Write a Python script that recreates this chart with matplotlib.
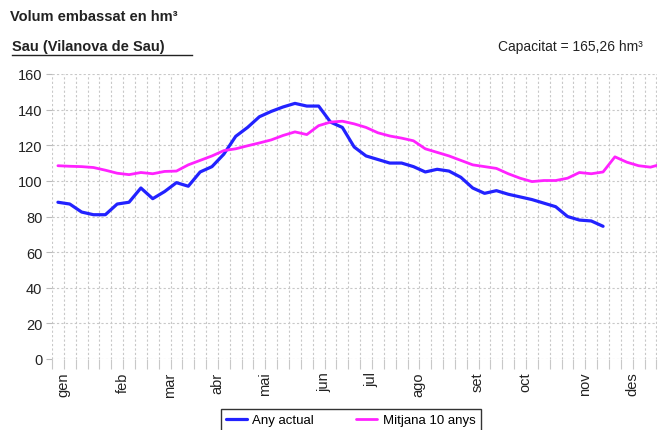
import numpy as np
import matplotlib
matplotlib.use('Agg')
import matplotlib.pyplot as plt

plt.rcParams['font.family'] = ['Liberation Sans', 'DejaVu Sans']

# weekly values (hm3)
any_actual = [88, 87, 82.5, 81, 81, 87, 88, 96, 90, 94, 99, 97, 105, 108, 115,
              125, 130, 136, 139, 141.5, 143.5, 142, 142, 133, 130, 119, 114, 112,
              110, 110, 108, 105, 106.5, 105.5, 102, 96, 93, 94.5, 92.5, 91, 89.5,
              87.5, 85.5, 80, 78, 77.5, 74.5]
mitjana_10 = [108.5, 108.2, 108, 107.5, 106, 104.3, 103.5, 104.7, 104, 105.3, 105.5,
              109, 111.5, 114, 117, 118, 119.7, 121.3, 123, 125.5, 127.5, 126, 131,
              133, 133.5, 132, 130, 127, 125.2, 124, 122.5, 118, 116, 114, 111.5, 109,
              108, 107, 104, 101.5, 99.6, 100.2, 100.2, 101.5, 104.7, 104, 105, 113.5,
              110.5, 108.5, 107.7, 109.5]
months = ['gen', 'feb', 'mar', 'abr', 'mai', 'jun', 'jul', 'ago', 'set', 'oct', 'nov', 'des']
month_week = [0, 5, 9, 13, 17, 22, 26, 30, 35, 39, 44, 48]

fig = plt.figure(figsize=(6.59, 4.31), dpi=100)
ax = fig.add_axes([52/659, 71/431, 605/659, 285/431])

ax.plot(np.arange(len(any_actual)), any_actual, color='#2222ff', lw=2.3,
        label='Any actual', solid_capstyle='round')
ax.plot(np.arange(len(mitjana_10)), mitjana_10, color='#ff22ff', lw=2.0,
        label='Mitjana 10 anys', solid_capstyle='round')

ax.set_xlim(-0.5, 50.55)
ax.set_ylim(0, 160)
ax.set_yticks(np.arange(0, 161, 20))
ax.set_xticks(np.arange(-0.5, 51, 1), minor=True)
ax.set_xticks(np.array(month_week) + 0.45)
ax.set_xticklabels(months, rotation=90, fontsize=10.5, color='#222222')
ax.tick_params(axis='x', which='major', length=0, pad=9)
ax.tick_params(axis='x', which='minor', length=7, width=0.8, color='#c8c8c8')
ax.tick_params(axis='y', length=4, color='#bbbbbb', labelsize=10.5, pad=3,
               labelcolor='#222222')
ax.grid(True, axis='x', which='minor', color='#c8c8c8', ls=(0, (2, 2)), lw=0.8)
ax.grid(True, axis='y', which='major', color='#c8c8c8', ls=(0, (2, 2)), lw=0.8)
for s in ax.spines.values():
    s.set_visible(False)

fig.text(10/659, 1 - 17/431, 'Volum embassat en hm³', fontsize=10.5, fontweight='bold',
         va='center', ha='left', color='#222222')
fig.text(12/659, 1 - 47/431, 'Sau (Vilanova de Sau)', fontsize=10.5, fontweight='bold',
         va='center', ha='left', color='#222222')
fig.add_artist(plt.Line2D([12/659, 192/659], [1 - 56/431, 1 - 56/431], color='#222222', lw=1))
fig.text(643/659, 1 - 47/431, 'Capacitat = 165,26 hm³', fontsize=10, va='center',
         ha='right', color='#222222')

leg = fig.legend(loc='lower left', bbox_to_anchor=(214/659, -8/431), ncol=2,
                 fontsize=9.5, frameon=True, fancybox=False, edgecolor='black',
                 handlelength=1.6, handletextpad=0.4, columnspacing=3.2, borderpad=0.4)
leg.get_frame().set_linewidth(1)

fig.savefig('out.png', dpi=100)
